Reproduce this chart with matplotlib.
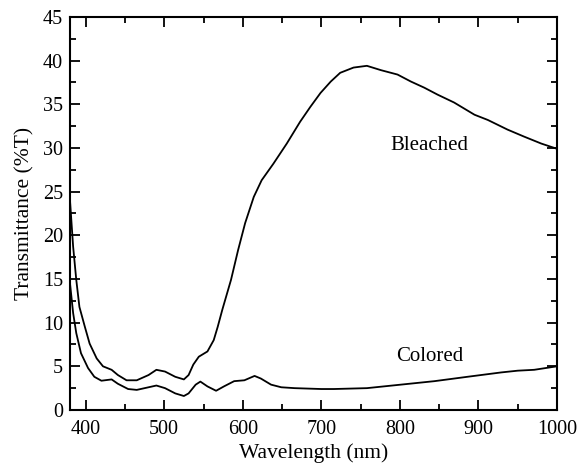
import numpy as np
import matplotlib
matplotlib.use('Agg')
import matplotlib.pyplot as plt
from matplotlib.ticker import MultipleLocator

plt.rcParams['font.family'] = ['Liberation Serif', 'DejaVu Serif']

# bleached spectrum
wl_bleached = [380, 384, 388, 392, 399, 405, 414, 422, 433, 441, 452, 465, 475, 480,
               490, 501, 514, 525, 531, 537, 544, 555, 563, 568, 574, 585, 594, 603,
               614, 624, 639, 656, 673, 686, 699, 712, 724, 741, 758, 776, 797, 814, 831,
               848, 869, 895, 912, 937, 958, 980, 1000]
t_bleached = [24.0, 18.7, 14.9, 11.8, 9.5, 7.6, 5.9, 5.0, 4.6, 4.0, 3.4, 3.4, 3.8, 4.0,
              4.6, 4.4, 3.8, 3.5, 4.0, 5.2, 6.1, 6.7, 8.0, 9.5, 11.5, 14.9, 18.3, 21.4,
              24.4, 26.3, 28.2, 30.5, 33.0, 34.7, 36.3, 37.6, 38.6, 39.2, 39.4, 38.9, 38.4, 37.6, 36.9,
              36.1, 35.2, 33.8, 33.2, 32.1, 31.3, 30.5, 29.9]

# colored spectrum
wl_colored = [380, 384, 388, 394, 403, 411, 420, 433, 441, 454, 465, 475, 480, 490,
              501, 514, 525, 531, 540, 546, 555, 566, 576, 589, 602, 615, 623, 636,
              649, 666, 700, 716, 758, 801, 844, 886, 929, 950, 971, 1000]
t_colored = [14.5, 11.1, 8.8, 6.5, 4.8, 3.8, 3.35, 3.5, 3.0, 2.4, 2.3, 2.5, 2.6, 2.8,
             2.5, 1.9, 1.6, 1.9, 2.9, 3.25, 2.7, 2.2, 2.7, 3.3, 3.4, 3.9, 3.6, 2.9,
             2.6, 2.5, 2.4, 2.4, 2.5, 2.9, 3.3, 3.8, 4.3, 4.5, 4.6, 5.0]

fig = plt.figure(figsize=(5.77, 4.63), dpi=100)
ax = fig.add_axes([0.1213, 0.1145, 0.844, 0.849])

ax.plot(wl_bleached, t_bleached, color='black', lw=1.3)
ax.plot(wl_colored, t_colored, color='black', lw=1.3)

ax.text(838, 30.3, 'Bleached', fontsize=15, ha='center', va='center')
ax.text(838, 6.1, 'Colored', fontsize=15, ha='center', va='center')

ax.set_xlim(380, 1000)
ax.set_ylim(0, 45)
ax.xaxis.set_major_locator(MultipleLocator(100))
ax.xaxis.set_minor_locator(MultipleLocator(50))
ax.yaxis.set_major_locator(MultipleLocator(5))
ax.yaxis.set_minor_locator(MultipleLocator(2.5))
ax.tick_params(which='both', direction='in', top=True, right=True, labelsize=14.5, width=1.3)
ax.tick_params(which='major', length=7)
ax.tick_params(which='minor', length=4)
ax.tick_params(axis='x', pad=7)
ax.tick_params(axis='y', pad=5)
for s in ax.spines.values():
    s.set_linewidth(1.5)

ax.set_xlabel('Wavelength (nm)', fontsize=15.5, labelpad=3)
ax.set_ylabel('Transmittance (%T)', fontsize=15.5, labelpad=6)

fig.savefig('out.png', dpi=100)
